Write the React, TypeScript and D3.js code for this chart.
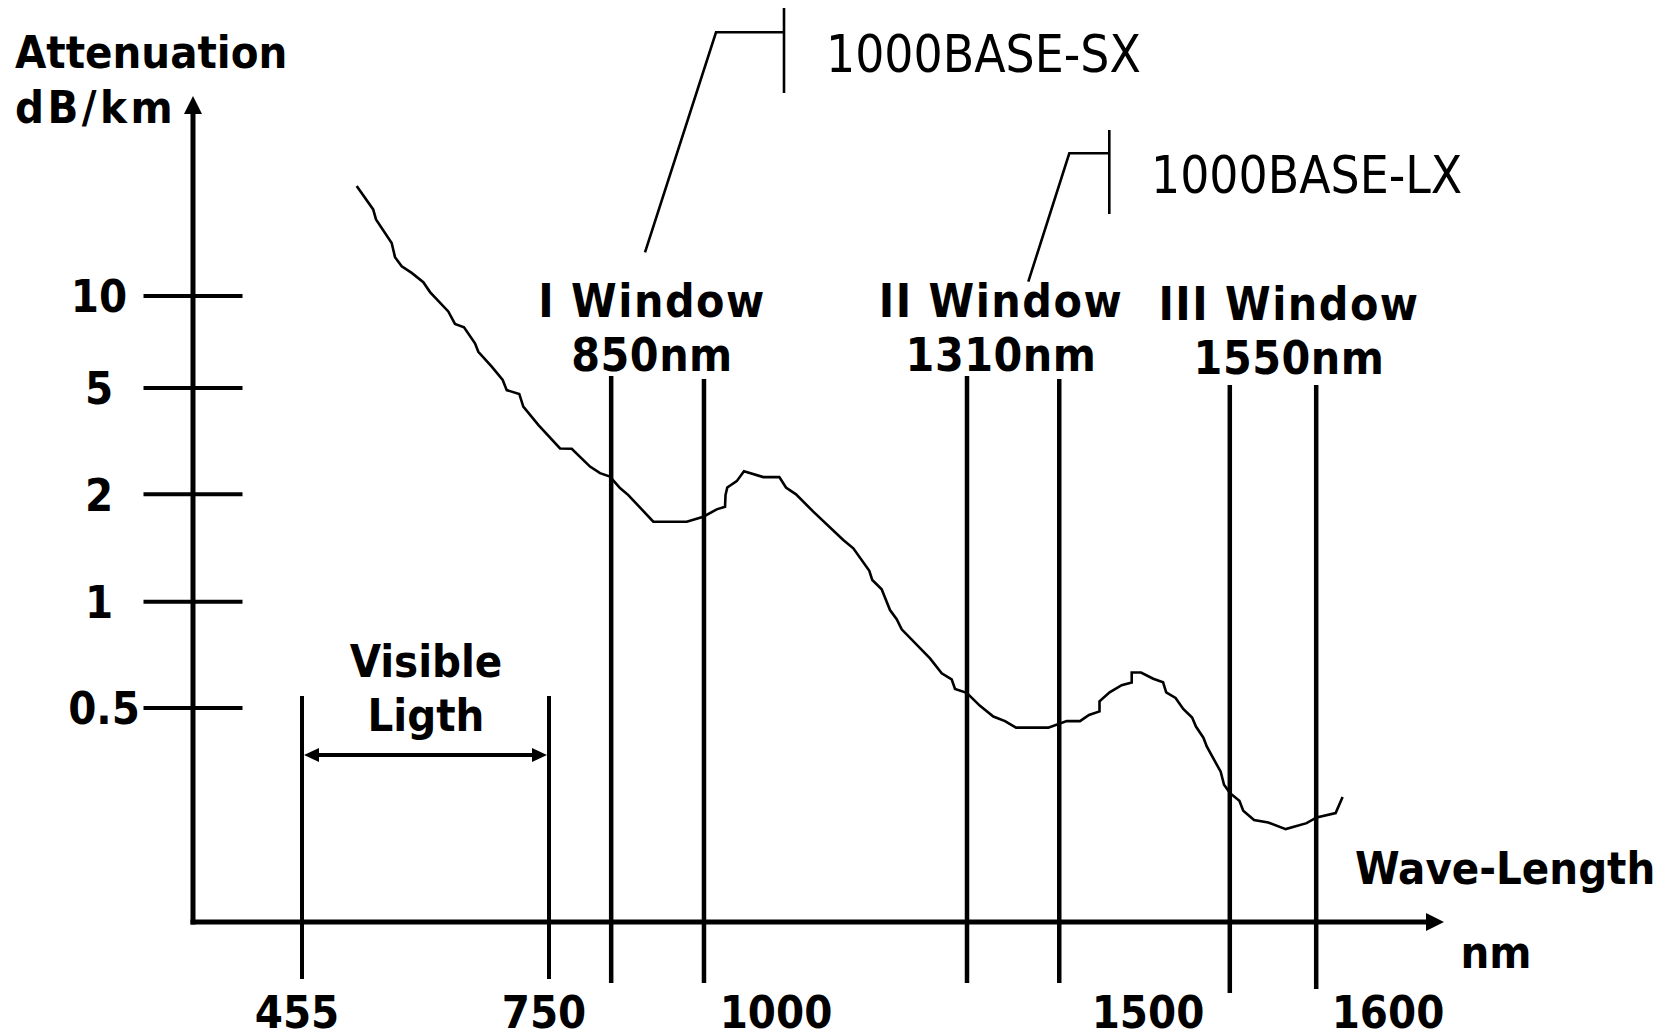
import React from "react";
import * as d3 from "d3";

// ---------- data ----------
const wavelengthNm = [
  520.3, 540, 543.4, 562.1, 566.1, 574.1, 586, 599.9, 607.9, 629.7, 637.7, 648.5, 661.6, 665.6, 681.6,
  694.7, 699.5, 714.5, 719.3, 737.2, 761.9, 774.5, 794.2, 805, 815.7, 826.5, 835.5, 862.4, 898.4, 916.3,
  930.7, 939.7, 940.2, 942.1, 952.3, 960.1, 980.9, 998.2, 1006.7, 1020.2, 1043.4, 1083.7, 1097.2, 1118.7,
  1122.7, 1135.3, 1146.5, 1155.5, 1162.2, 1200.3, 1216, 1229.4, 1233.9, 1249.6, 1267.5, 1285.4, 1301.1,
  1315.9, 1359.3, 1384, 1401.9, 1414, 1428.1, 1428.1, 1441.7, 1457.9, 1471.4, 1471.4, 1483.9, 1500.1,
  1504.2, 1505.5, 1509.4, 1512.6, 1516.3, 1517.9, 1521, 1522.4, 1528.2, 1529.6, 1532.1, 1536, 1537.6,
  1542.1, 1548, 1555.3, 1564, 1568.2, 1576.1, 1579,
];
const attenuationDbKm = [
  22.9, 19.2, 17.8, 14.9, 13.4, 12.5, 11.9, 11.1, 10.3, 8.9, 8.1, 7.9, 7.0, 6.57, 5.87,
  5.31, 4.91, 4.75, 4.26, 3.64, 2.97, 2.96, 2.54, 2.4, 2.33, 2.11, 1.99, 1.676, 1.676, 1.731,
  1.815, 1.846, 1.99, 2.12, 2.24, 2.44, 2.32, 2.32, 2.12, 2.0, 1.788, 1.489, 1.411, 1.221,
  1.15, 1.083, 0.947, 0.892, 0.835, 0.691, 0.627, 0.603, 0.566, 0.552, 0.507, 0.473, 0.459,
  0.44, 0.44, 0.459, 0.459, 0.478, 0.489, 0.522, 0.554, 0.58, 0.59, 0.63, 0.63, 0.605,
  0.591, 0.554, 0.534, 0.497, 0.47, 0.443, 0.412, 0.389, 0.33, 0.303, 0.287, 0.273, 0.256,
  0.241, 0.237, 0.227, 0.236, 0.245, 0.252, 0.28,
];
const yTickValues = [10, 5, 2, 1, 0.5];
const yTickLabels = ["10", "5", "2", "1", "0.5"];
const xTickValues = [455, 750, 1000, 1500, 1600];
const xTickLabels = ["455", "750", "1000", "1500", "1600"];
const visibleRange = [455, 750];
const windowNames = ["I Window", "II Window", "III Window"];
const windowWavelengths = ["850nm", "1310nm", "1550nm"];
const windowEdgesNm = [
  [817, 917],
  [1250, 1374],
  [1532, 1568],
];
const calloutLabels = ["1000BASE-SX", "1000BASE-LX"];

// ---------- layout ----------
const W = 1667;
const H = 1033;
const AXIS_X = 193;
const AXIS_Y = 922;
const BOLD = "'DejaVu Sans Condensed', 'DejaVu Sans', sans-serif";

const x = d3.scaleLinear().domain(xTickValues).range([302, 549, 781, 1153, 1393]);
const y = d3.scaleLog().domain([0.5, 1, 2, 5, 10]).range([708, 601.7, 494.3, 388, 296]);

const windowLabelX = [652, 1001, 1289];
const windowLabelDy = [0, 0, 3];
const windowLineTop = [
  [376, 379],
  [376, 379],
  [385, 385],
];
const windowLineBottom = [
  [983, 983],
  [983, 983],
  [993, 989],
];
const yLabelX = [99, 99, 99, 99, 104];

export default function App() {
  const pts: [number, number][] = wavelengthNm.map((w, i) => [w, attenuationDbKm[i]]);
  const line = d3
    .line<[number, number]>()
    .x((d) => x(d[0]))
    .y((d) => y(d[1]))
    .curve(d3.curveLinear);

  const vx0 = x(visibleRange[0]);
  const vx1 = x(visibleRange[1]);
  const arrowY = 755;

  const boldText = {
    fontFamily: BOLD,
    fontWeight: 700,
    fontSize: 45,
    fill: "#000",
  } as const;

  return (
    <div style={{ position: "absolute", left: 0, top: 0 }}>
      <svg width={W} height={H} viewBox={`0 0 ${W} ${H}`} style={{ display: "block", background: "#fff" }}>
        <rect width={W} height={H} fill="#fff" />

        {/* axis titles */}
        <text x={15} y={68} {...boldText} fontSize={45}>
          Attenuation
        </text>
        <text x={15} y={123} {...boldText} fontSize={45} letterSpacing={3.5}>
          dB/km
        </text>

        {/* y axis */}
        <line x1={AXIS_X} y1={112} x2={AXIS_X} y2={AXIS_Y + 2.5} stroke="#000" strokeWidth={5} />
        <path d={`M${AXIS_X},96 L${AXIS_X - 9},114 L${AXIS_X + 9},114 Z`} fill="#000" />

        {/* x axis */}
        <line x1={AXIS_X - 2.5} y1={AXIS_Y} x2={1428} y2={AXIS_Y} stroke="#000" strokeWidth={5} />
        <path d={`M1444,${AXIS_Y} L1426,${AXIS_Y - 9} L1426,${AXIS_Y + 9} Z`} fill="#000" />

        {/* y ticks */}
        {yTickValues.map((v, i) => (
          <g key={"yt" + i}>
            <line x1={143.5} x2={242.5} y1={y(v)} y2={y(v)} stroke="#000" strokeWidth={4} />
            <text x={yLabelX[i]} y={y(v)} dy="0.36em" textAnchor="middle" {...boldText}>
              {yTickLabels[i]}
            </text>
          </g>
        ))}

        {/* x tick labels */}
        {xTickValues.map((v, i) => (
          <text key={"xt" + i} x={x(v) - 5} y={1028} textAnchor="middle" {...boldText}>
            {xTickLabels[i]}
          </text>
        ))}

        {/* visible light */}
        {visibleRange.map((v, i) => (
          <line key={"vl" + i} x1={x(v)} x2={x(v)} y1={696} y2={979} stroke="#000" strokeWidth={4} />
        ))}
        <line x1={vx0 + 14} x2={vx1 - 14} y1={arrowY} y2={arrowY} stroke="#000" strokeWidth={4} />
        <path d={`M${vx0 + 2},${arrowY} L${vx0 + 17},${arrowY - 7} L${vx0 + 17},${arrowY + 7} Z`} fill="#000" />
        <path d={`M${vx1 - 2},${arrowY} L${vx1 - 17},${arrowY - 7} L${vx1 - 17},${arrowY + 7} Z`} fill="#000" />
        <text x={426} y={677} textAnchor="middle" {...boldText}>
          Visible
        </text>
        <text x={426} y={731} textAnchor="middle" {...boldText}>
          Ligth
        </text>

        {/* windows */}
        {windowEdgesNm.map((edges, i) => (
          <g key={"w" + i}>
            {edges.map((e, j) => (
              <line
                key={j}
                x1={x(e)}
                x2={x(e)}
                y1={windowLineTop[i][j]}
                y2={windowLineBottom[i][j]}
                stroke="#000"
                strokeWidth={4.5}
              />
            ))}
            <text
              x={windowLabelX[i]}
              y={317 + windowLabelDy[i]}
              textAnchor="middle"
              {...boldText}
              fontSize={46}
              letterSpacing={1.5}
            >
              {windowNames[i]}
            </text>
            <text
              x={windowLabelX[i]}
              y={371 + windowLabelDy[i]}
              textAnchor="middle"
              {...boldText}
              fontSize={46}
              letterSpacing={0.5}
            >
              {windowWavelengths[i]}
            </text>
          </g>
        ))}

        {/* attenuation curve */}
        <path d={line(pts) || ""} fill="none" stroke="#000" strokeWidth={2.6} strokeLinejoin="miter" />

        {/* callouts */}
        <polyline points="645,252.3 716,32.3 784,32.3" fill="none" stroke="#000" strokeWidth={2.6} />
        <line x1={784} x2={784} y1={8} y2={93} stroke="#000" strokeWidth={2.6} />
        <text x={826} y={72} fontFamily={BOLD} fontSize={51} fill="#000">
          {calloutLabels[0]}
        </text>
        <polyline points="1028.3,281.7 1069.3,153.3 1109.3,153.3" fill="none" stroke="#000" strokeWidth={2.6} />
        <line x1={1109.3} x2={1109.3} y1={130} y2={214} stroke="#000" strokeWidth={2.6} />
        <text x={1151} y={193} fontFamily={BOLD} fontSize={51} fill="#000">
          {calloutLabels[1]}
        </text>

        {/* x axis titles */}
        <text x={1355} y={884} {...boldText}>
          Wave-Length
        </text>
        <text x={1496} y={968} textAnchor="middle" {...boldText}>
          nm
        </text>
      </svg>
    </div>
  );
}
